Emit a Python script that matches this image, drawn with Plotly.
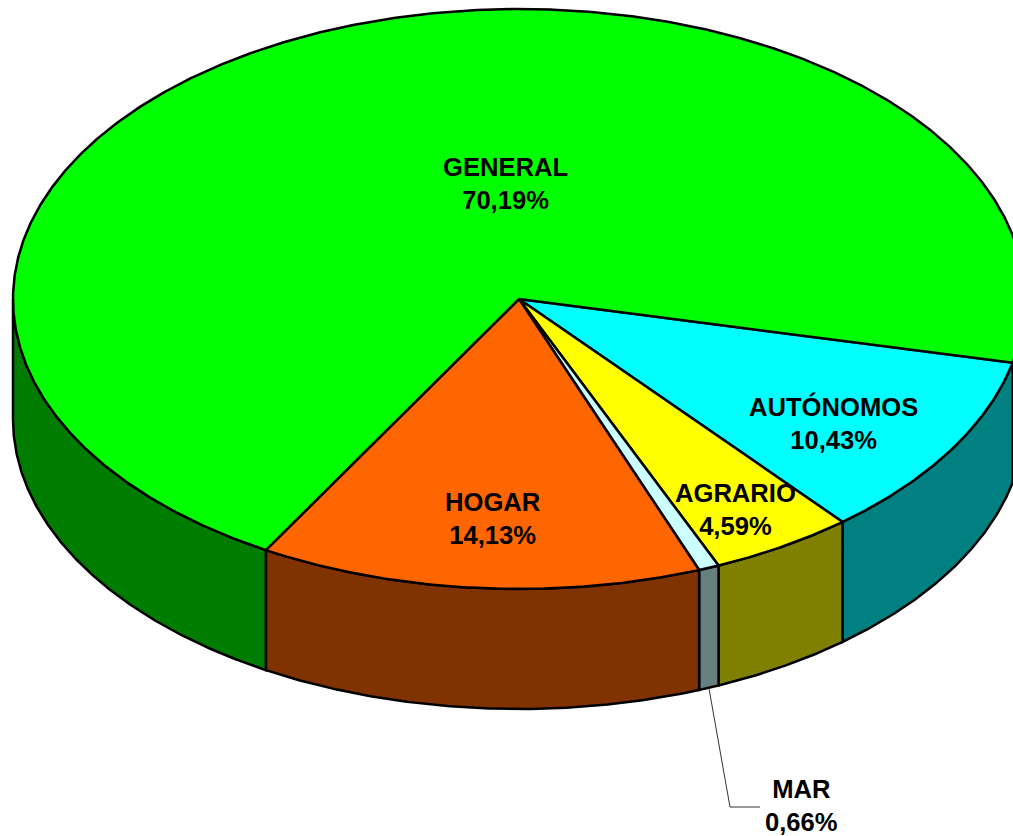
import numpy as np
import plotly.graph_objects as go

categories = ["AUTÓNOMOS", "AGRARIO", "MAR", "HOGAR", "GENERAL"]
values = [10.43, 4.59, 0.66, 14.13, 70.19]
top_colors = ["#00FFFF", "#FFFF00", "#CCFFFF", "#FF6600", "#00FF00"]
side_colors = ["#008080", "#808000", "#668080", "#803300", "#007C00"]
value_labels = ["10,43%", "4,59%", "0,66%", "14,13%", "70,19%"]
label_x = [833, 735, 801, 492, 505.5]
label_y = [422.5, 509, 805.5, 518, 183.5]

W, H = 1013, 836
CX, CY, RX, RY, DEPTH = 519, 299, 506, 290, 120
START = 12.7


def rim(a0, a1, dy=0.0):
    t = np.radians(np.linspace(a0, a1, max(3, int(abs(a1 - a0) * 3))))
    return CX + RX * np.cos(t), CY + dy + RY * np.sin(t)


fig = go.Figure()
angles = START + np.concatenate([[0], np.cumsum(values)]) * 3.6


def poly(x, y, color):
    fig.add_trace(go.Scatter(x=x, y=y, mode="lines", fill="toself", fillcolor=color,
                             line=dict(color="black", width=2.5), hoverinfo="skip"))


# side walls (only the front half of the disc shows)
for i in range(len(values)):
    a0, a1 = angles[i], min(angles[i + 1], 180)
    if a0 >= 180:
        continue
    xt, yt = rim(a0, a1)
    xb, yb = rim(a1, a0, DEPTH)
    poly(np.r_[xt, xb, xt[0]], np.r_[yt, yb, yt[0]], side_colors[i])

# top faces
for i in range(len(values)):
    xt, yt = rim(angles[i], angles[i + 1])
    poly(np.r_[CX, xt, CX], np.r_[CY, yt, CY], top_colors[i])

# leader line for the small slice
mid = np.radians((angles[2] + angles[3]) / 2)
lx = CX + RX * np.cos(mid)
ly = CY + DEPTH + RY * np.sin(mid)
fig.add_trace(go.Scatter(x=[lx, 730, 760], y=[ly, 807, 807], mode="lines",
                         line=dict(color="#333333", width=1), hoverinfo="skip"))

for c, v, x, y in zip(categories, value_labels, label_x, label_y):
    fig.add_annotation(x=x, y=y, text=f"<b>{c}</b><br><b>{v}</b>", showarrow=False,
                       font=dict(family="Liberation Sans", size=25.6, color="black"),
                       align="center", xanchor="center", yanchor="middle")

fig.update_layout(width=W, height=H, margin=dict(l=0, r=0, t=0, b=0), showlegend=False,
                  paper_bgcolor="white", plot_bgcolor="white",
                  xaxis=dict(range=[0, W], visible=False, fixedrange=True),
                  yaxis=dict(range=[H, 0], visible=False, fixedrange=True))
fig.write_html("out.html", post_script="document.body.style.margin='0';", config={"displayModeBar": False})
